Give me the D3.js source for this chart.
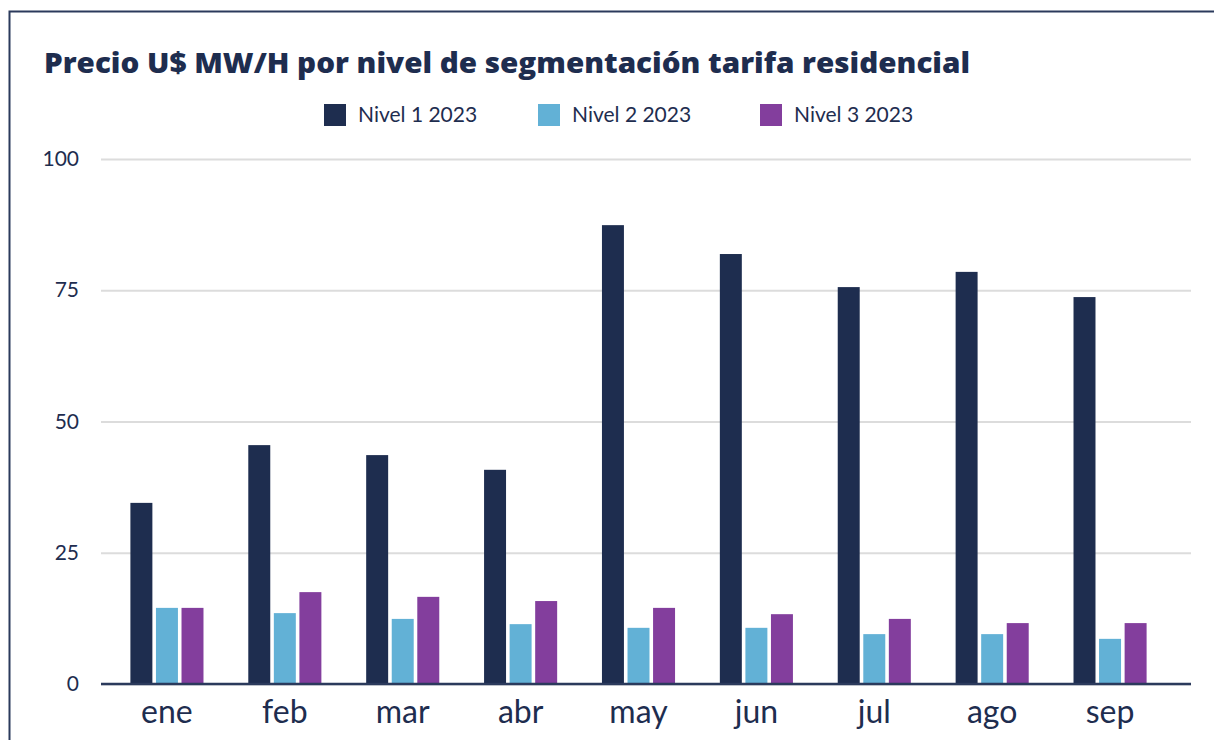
<script src="https://d3js.org/d3.v7.min.js"></script>
<style>
  body { margin: 0; background: #fff; }
  svg text { font-family: Lato, "Open Sans", sans-serif; fill: #1e2d4f; }
</style>

<div id="chart"></div>

<script>
// data
var months = ['ene', 'feb', 'mar', 'abr', 'may', 'jun', 'jul', 'ago', 'sep']
var series = ['Nivel 1 2023', 'Nivel 2 2023', 'Nivel 3 2023']
var nivel1 = [34.5, 45.5, 43.6, 40.8, 87.4, 81.9, 75.6, 78.5, 73.7]
var nivel2 = [14.5, 13.5, 12.4, 11.4, 10.7, 10.7, 9.5, 9.5, 8.6]
var nivel3 = [14.5, 17.5, 16.6, 15.8, 14.5, 13.3, 12.4, 11.6, 11.6]
var yTicks = [0, 25, 50, 75, 100]
var colors = ['#1e2d4f', '#62b1d6', '#833e9d']

var W = 1214, H = 740
var plot = {left: 101, right: 1191, top: 159, bottom: 684}

var svg = d3.select('#chart').append('svg')
    .attr('width', W).attr('height', H)

// frame (only left and top edges are visible in the crop)
svg.append('path')
  .attr('d', 'M9.5,740 V11.5 H1214')
  .attr('fill', 'none')
  .attr('stroke', '#2b3a5c')
  .attr('stroke-width', 2)

// title
svg.append('text')
  .attr('x', 44).attr('y', 73)
  .attr('textLength', 926)
  .attr('lengthAdjust', 'spacingAndGlyphs')
  .style('font-family', '"Open Sans", sans-serif')
  .style('font-size', '29px')
  .style('font-weight', 800)
  .text('Precio U$ MW/H por nivel de segmentación tarifa residencial')

// scales
var y = d3.scaleLinear().domain([0, 100]).range([plot.bottom, plot.top])

var x0 = d3.scaleBand()
  .domain(months)
  .range([108, 1169])
  .paddingInner(0.38)
  .paddingOuter(0.19)

var x1 = d3.scaleBand()
  .domain(series)
  .range([0, x0.bandwidth()])
  .paddingInner(0.14)

var color = d3.scaleOrdinal().domain(series).range(colors)

// y axis + gridlines
var yAxis = svg.append('g')
  .attr('transform', `translate(${plot.left},0)`)
  .call(d3.axisLeft(y).tickValues(yTicks).tickSize(-(plot.right - plot.left)).tickPadding(22))
yAxis.select('.domain').remove()
yAxis.selectAll('line').attr('stroke', '#dcdcdc').attr('stroke-width', 2)
yAxis.selectAll('text')
  .style('font-size', '21px')
  .attr('fill', '#1e2d4f')

// bars
var rows = months.map(function(m, i) {
  return {month: m, values: [nivel1[i], nivel2[i], nivel3[i]]}
})

svg.append('g')
  .selectAll('g')
  .data(rows)
  .join('g')
    .attr('transform', function(d) { return `translate(${x0(d.month)},0)` })
  .selectAll('rect')
  .data(function(d) { return series.map(function(s, k) { return {key: s, value: d.values[k]} }) })
  .join('rect')
    .attr('x', function(d) { return x1(d.key) })
    .attr('y', function(d) { return y(d.value) })
    .attr('width', x1.bandwidth())
    .attr('height', function(d) { return y(0) - y(d.value) })
    .attr('fill', function(d) { return color(d.key) })

// baseline
svg.append('line')
  .attr('x1', plot.left).attr('x2', plot.right)
  .attr('y1', y(0)).attr('y2', y(0))
  .attr('stroke', '#2b3a5c')
  .attr('stroke-width', 2.5)

// x axis labels
var xAxis = svg.append('g')
  .attr('transform', `translate(0,${plot.bottom})`)
  .call(d3.axisBottom(x0).tickSize(0).tickPadding(16))
xAxis.select('.domain').remove()
xAxis.selectAll('text')
  .style('font-size', '32px')
  .attr('fill', '#1e2d4f')

// legend
var legendX = [324, 538, 760]
var legend = svg.append('g')
  .selectAll('g')
  .data(series)
  .join('g')
    .attr('transform', function(d, i) { return `translate(${legendX[i]},104)` })

legend.append('rect')
  .attr('width', 22).attr('height', 22)
  .attr('fill', function(d) { return color(d) })

legend.append('text')
  .attr('x', 34).attr('y', 11)
  .attr('dy', '0.35em')
  .style('font-size', '21px')
  .text(function(d) { return d })
</script>
